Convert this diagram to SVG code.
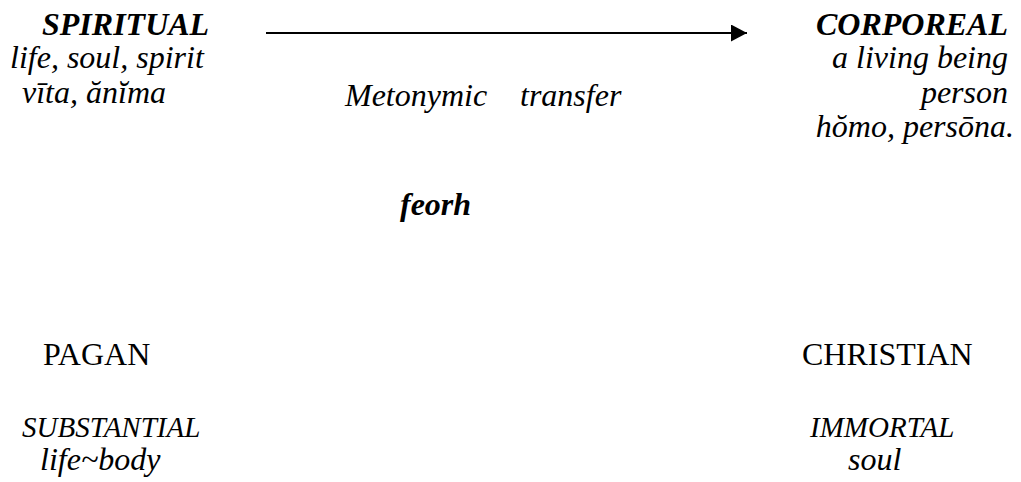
<svg xmlns="http://www.w3.org/2000/svg" width="1021" height="482" viewBox="0 0 1021 482">
  <style>
    text { font-family: "Liberation Serif", "Times New Roman", serif; font-size: 32px; fill: #000; }
    .it { font-style: italic; }
    .bi { font-style: italic; font-weight: bold; }
    .end { text-anchor: end; }
    .sm { font-size: 29px; }
    .conn { stroke: #000; stroke-width: 2; fill: none; }
  </style>
  <defs>
    <marker id="arrowhead" markerWidth="16" markerHeight="17" refX="16" refY="8.5" orient="auto" markerUnits="userSpaceOnUse">
      <path d="M0,0 L16,8.5 L0,17 Z" fill="#000"/>
    </marker>
  </defs>

  <!-- connectors -->
  <g id="connectors">
    <line class="conn" x1="266" y1="33" x2="747" y2="33" marker-end="url(#arrowhead)"/>
  </g>

  <!-- spiritual sense -->
  <g id="spiritual">
    <text class="bi" x="42" y="35">SPIRITUAL</text>
    <text class="it" x="10" y="68">life, soul, spirit</text>
    <text class="it" x="22" y="103">vīta, ănĭma</text>
  </g>

  <!-- transfer label -->
  <g id="transfer">
    <text class="it" x="345" y="106">Metonymic</text>
    <text class="it" x="520" y="106">transfer</text>
  </g>

  <!-- corporeal sense -->
  <g id="corporeal">
    <text class="bi end" x="1008" y="35">CORPOREAL</text>
    <text class="it end" x="1008" y="68">a living being</text>
    <text class="it end" x="1008" y="103">person</text>
    <text class="it end" x="1014" y="137">hŏmo, persōna.</text>
  </g>

  <!-- headword -->
  <g id="feorh">
    <text class="bi" x="400" y="215">feorh</text>
  </g>

  <!-- pagan reading -->
  <g id="pagan">
    <text x="43" y="365">PAGAN</text>
    <text class="it sm" x="22" y="437">SUBSTANTIAL</text>
    <text class="it" x="40" y="470">life~body</text>
  </g>

  <!-- christian reading -->
  <g id="christian">
    <text x="802" y="365">CHRISTIAN</text>
    <text class="it sm" x="810" y="437">IMMORTAL</text>
    <text class="it" x="848" y="470">soul</text>
  </g>
</svg>
